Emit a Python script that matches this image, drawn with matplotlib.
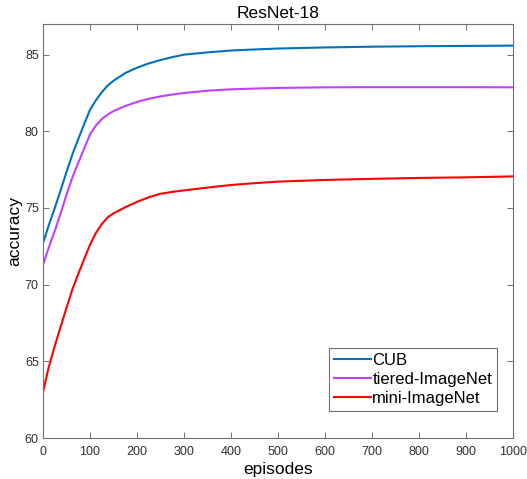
import matplotlib
matplotlib.use('Agg')
from matplotlib import pyplot as plt

plt.rcParams['font.family'] = ['Liberation Sans', 'DejaVu Sans']

episodes = [0, 12, 25, 38, 50, 62, 75, 88, 100, 112, 125, 138, 150, 175, 200, 225, 250, 275,
            300, 350, 400, 450, 500, 600, 700, 800, 900, 1000]
cub = [72.7, 73.85, 75.0, 76.2, 77.35, 78.45, 79.5, 80.5, 81.4, 82.0, 82.55, 83.0, 83.3,
       83.8, 84.15, 84.43, 84.65, 84.84, 85.0, 85.15, 85.27, 85.34, 85.4, 85.47, 85.52,
       85.55, 85.57, 85.59]
tiered = [71.3, 72.4, 73.5, 74.7, 75.85, 76.95, 77.95, 78.9, 79.8, 80.35, 80.8, 81.1, 81.32,
          81.65, 81.92, 82.12, 82.28, 82.4, 82.5, 82.65, 82.74, 82.79, 82.83, 82.87, 82.88,
          82.88, 82.88, 82.87]
mini = [63.0, 64.6, 66.0, 67.3, 68.5, 69.65, 70.7, 71.7, 72.6, 73.35, 73.95, 74.4, 74.65,
        75.05, 75.4, 75.7, 75.93, 76.05, 76.15, 76.33, 76.5, 76.62, 76.72, 76.83, 76.9,
        76.96, 77.0, 77.06]

names = ['CUB', 'tiered-ImageNet', 'mini-ImageNet']
colors = ['#0072BD', '#BF40FF', '#FF0000']

fig = plt.figure(figsize=(5.27, 4.79), dpi=100)
ax = fig.add_axes([43/527, 1 - 438/479, 470/527, 414/479])

for y, name, c in zip([cub, tiered, mini], names, colors):
    ax.plot(episodes, y, color=c, lw=1.5, label=name, solid_joinstyle='round')

ax.set_xlim(0, 1000)
ax.set_ylim(60, 87)
ax.set_xticks(range(0, 1001, 100))
ax.set_yticks([60, 65, 70, 75, 80, 85])
ax.tick_params(direction='in', top=True, right=True, length=4, width=0.7,
               color='#707070', labelcolor='#303030', labelsize=9)
ax.tick_params(axis='x', pad=5.5)
ax.tick_params(axis='y', pad=3)
for s in ax.spines.values():
    s.set_color('#707070')
    s.set_linewidth(0.8)

ax.set_title('ResNet-18', fontsize=12.5, color='black', pad=4)
ax.set_xlabel('episodes', fontsize=12.5, labelpad=3)
ax.set_ylabel('accuracy', fontsize=12.5, labelpad=2)

leg = ax.legend(loc='lower right', bbox_to_anchor=(0.966, 0.065), fontsize=12,
                fancybox=False, framealpha=1, edgecolor='#707070',
                handlelength=2.2, handletextpad=0.1, labelspacing=0.25,
                borderpad=0.3, borderaxespad=0)
leg.get_frame().set_linewidth(0.8)

fig.savefig('out.png', dpi=100)
